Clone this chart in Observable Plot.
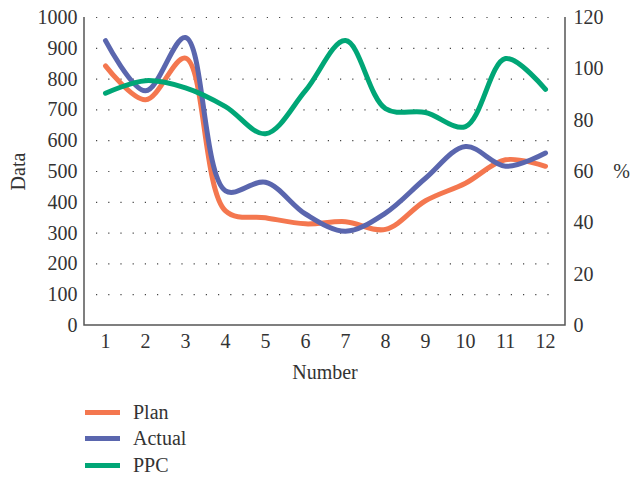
<!DOCTYPE html>
<html>
<head>
<meta charset="utf-8">
<script src="https://cdn.jsdelivr.net/npm/d3@7"></script>
<script src="https://cdn.jsdelivr.net/npm/@observablehq/plot@0.6"></script>
<style>
  html, body { margin: 0; padding: 0; background: #fff; }
  body { width: 631px; height: 480px; overflow: hidden; font-family: "Liberation Serif", "DejaVu Serif", serif; }
  #legend { position: relative; height: 90px; }
  .item { position: absolute; left: 85px; height: 26px; display: flex; align-items: center; font-size: 20px; color: #333; }
  .swatch { width: 35px; height: 5px; margin-right: 13px; }
</style>
</head>
<body>
<div id="chart"></div>
<div id="legend"></div>
<script>
const numbers = [1, 2, 3, 4, 5, 6, 7, 8, 9, 10, 11, 12];
const plan   = [843, 733, 868, 372, 350, 330, 337, 312, 405, 462, 538, 517];
const actual = [925, 762, 935, 437, 465, 362, 306, 365, 478, 581, 517, 560];
const ppc    = [90.5, 95.4, 92.6, 85.3, 74.7, 91.5, 111, 84.5, 83, 77.5, 104, 92];
const leftTicks  = [0, 100, 200, 300, 400, 500, 600, 700, 800, 900, 1000];
const rightTicks = [0, 20, 40, 60, 80, 100, 120];
const rightMax = 120, leftMax = 1000;
const seriesNames = ["Plan", "Actual", "PPC"];
const colors = ["#F4774F", "#5A66AE", "#00A676"];

const toLeft = v => v * leftMax / rightMax;
const rows = [];
numbers.forEach((n, i) => {
  rows.push({n, s: "Plan", v: plan[i]});
  rows.push({n, s: "Actual", v: actual[i]});
  rows.push({n, s: "PPC", v: toLeft(ppc[i])});
});

const axisLines = (index, scales, values, dim) => {
  const g = d3.create("svg:g").attr("stroke", "#555").attr("stroke-width", 1.5).attr("fill", "none");
  const x0 = dim.marginLeft, x1 = dim.width - dim.marginRight;
  const y0 = dim.marginTop, y1 = dim.height - dim.marginBottom;
  g.append("path").attr("d", `M${x0},${y0}V${y1}H${x1}V${y0}`);
  return g.node();
};

const FS = 20;
const chart = Plot.plot({
  width: 631,
  height: 390,
  marginLeft: 84,
  marginRight: 66,
  marginTop: 17,
  marginBottom: 65,
  style: {fontFamily: "'Liberation Serif', 'DejaVu Serif', serif", fontSize: FS + "px", color: "#333", background: "#fff"},
  x: {type: "point", domain: numbers, padding: 0.45},
  y: {domain: [0, leftMax]},
  color: {domain: seriesNames, range: colors},
  marks: [
    Plot.gridY(leftTicks.slice(1), {stroke: "#444", strokeOpacity: 1, strokeWidth: 1.2, strokeDasharray: "1.2 11", insetLeft: 12, insetRight: 9}),
    Plot.axisY(leftTicks, {anchor: "left", tickSize: 0, tickPadding: 7, label: null, fontSize: FS, tickFormat: d => String(d)}),
    Plot.axisY(rightTicks.map(toLeft), {anchor: "right", tickSize: 0, tickPadding: 8, label: null, fontSize: FS,
      tickFormat: d => String(Math.round(d * rightMax / leftMax))}),
    Plot.axisX(numbers, {anchor: "bottom", tickSize: 0, tickPadding: 8, label: null, fontSize: FS, tickFormat: d => String(d)}),
    axisLines,
    Plot.line(rows, {x: "n", y: "v", z: "s", stroke: "s", strokeWidth: 5, curve: "catmull-rom"}),
    Plot.text(["Data"], {frameAnchor: "left", dx: -66, rotate: -90, textAnchor: "middle", lineAnchor: "middle", fontSize: FS, fill: "#333"}),
    Plot.text(["%"], {frameAnchor: "right", dx: 56, textAnchor: "middle", lineAnchor: "middle", fontSize: FS, fill: "#333"}),
    Plot.text(["Number"], {frameAnchor: "bottom", dy: 47, textAnchor: "middle", lineAnchor: "middle", fontSize: FS, fill: "#333"})
  ]
});
document.getElementById("chart").appendChild(chart);

const legend = document.getElementById("legend");
seriesNames.forEach((name, i) => {
  const item = document.createElement("div");
  item.className = "item";
  item.style.top = (9 + i * 26.5) + "px";
  const sw = document.createElement("div");
  sw.className = "swatch";
  sw.style.background = colors[i];
  item.appendChild(sw);
  item.appendChild(document.createTextNode(name));
  legend.appendChild(item);
});
</script>
</body>
</html>
